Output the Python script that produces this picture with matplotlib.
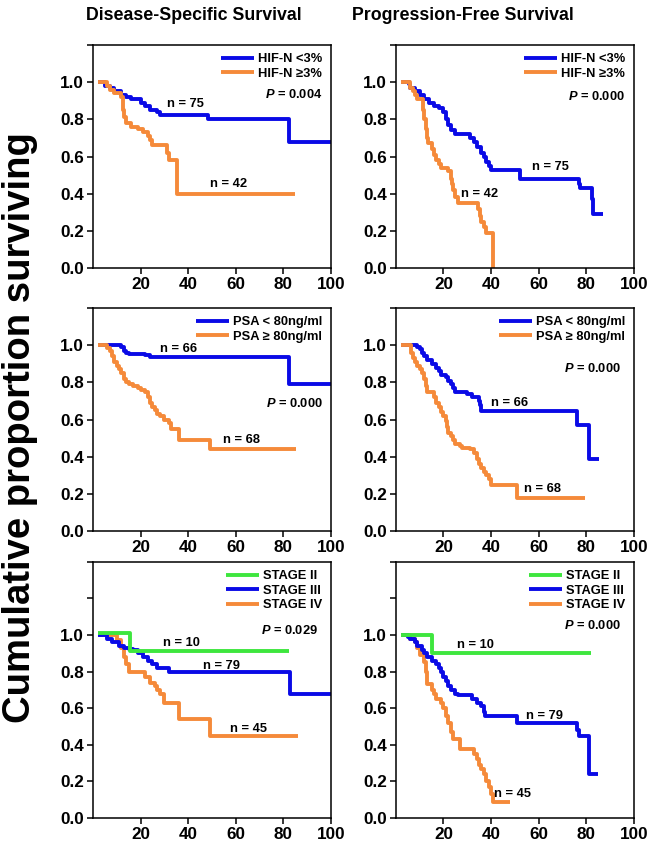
import matplotlib
matplotlib.use("Agg")
import matplotlib.pyplot as plt

plt.rcParams['font.family'] = ['Liberation Sans', 'DejaVu Sans']
plt.rcParams['font.weight'] = 'bold'
plt.rcParams['mathtext.fontset'] = 'custom'
plt.rcParams['mathtext.it'] = 'Liberation Sans:italic:bold'
plt.rcParams['mathtext.rm'] = 'Liberation Sans:bold'

BLUE = '#0a0ae6'
ORANGE = '#f58a3a'
GREEN = '#3ee63e'

# --- data (months, survival) ---
dss_hif_lo_t = [2, 5, 7, 9, 12, 14, 16, 20, 22, 24, 27, 28, 48.5, 82.5, 100]
dss_hif_lo_s = [1.0, 0.98, 0.97, 0.95, 0.93, 0.92, 0.91, 0.89, 0.87, 0.85, 0.84, 0.825, 0.80, 0.68, 0.68]
dss_hif_hi_t = [2, 6, 7, 9, 12, 12.5, 13, 14, 16, 19, 21, 23, 24, 25, 31, 32, 35.5, 85]
dss_hif_hi_s = [1.0, 0.98, 0.96, 0.94, 0.92, 0.85, 0.81, 0.78, 0.76, 0.75, 0.73, 0.71, 0.69, 0.66, 0.62, 0.58, 0.40, 0.40]

pfs_hif_lo_t = [2, 5.5, 6, 8, 10, 12, 14, 16, 18, 20, 21, 22, 23, 25, 31, 33, 34, 36, 37, 38, 39, 40, 52, 77, 77.5, 82.5, 83, 87]
pfs_hif_lo_s = [1.0, 0.99, 0.97, 0.95, 0.93, 0.91, 0.89, 0.87, 0.86, 0.84, 0.80, 0.77, 0.74, 0.72, 0.70, 0.68, 0.65, 0.62, 0.60, 0.57, 0.55, 0.53, 0.48, 0.45, 0.43, 0.37, 0.29, 0.29]
pfs_hif_hi_t = [2, 6, 7, 8, 9, 11.5, 12, 12.5, 13, 13.5, 15, 16, 17, 18, 19, 22, 23, 23.5, 24, 25, 26, 34.5, 35.5, 36, 37, 38, 41]
pfs_hif_hi_s = [1.0, 0.97, 0.95, 0.93, 0.91, 0.85, 0.80, 0.75, 0.70, 0.67, 0.64, 0.61, 0.58, 0.56, 0.54, 0.52, 0.48, 0.45, 0.42, 0.38, 0.35, 0.32, 0.28, 0.25, 0.22, 0.19, 0.0]

dss_psa_lo_t = [2, 12, 13, 14, 15, 22, 24, 82.5, 100]
dss_psa_lo_s = [1.0, 0.99, 0.97, 0.96, 0.955, 0.945, 0.935, 0.79, 0.79]
dss_psa_hi_t = [2, 6, 7, 8, 9, 10, 11, 12, 13, 14, 15, 17, 19, 20, 22, 23, 24, 25, 26, 27, 28, 30, 32, 33, 36, 49, 85.5]
dss_psa_hi_s = [1.0, 0.985, 0.97, 0.94, 0.91, 0.89, 0.87, 0.85, 0.82, 0.80, 0.79, 0.78, 0.77, 0.76, 0.75, 0.72, 0.69, 0.67, 0.65, 0.63, 0.62, 0.60, 0.58, 0.55, 0.49, 0.44, 0.44]

pfs_psa_lo_t = [2, 9, 10, 11, 12, 13, 15, 17, 18, 19, 21, 22, 23, 24, 25, 30, 32, 35, 35.5, 36, 76, 81, 85.5]
pfs_psa_lo_s = [1.0, 0.99, 0.98, 0.96, 0.94, 0.92, 0.90, 0.88, 0.86, 0.84, 0.83, 0.81, 0.79, 0.77, 0.75, 0.74, 0.72, 0.70, 0.68, 0.645, 0.57, 0.39, 0.39]
pfs_psa_hi_t = [2, 6.5, 7, 8, 9, 10, 11, 12, 12.5, 13, 16, 17, 18, 19, 20, 21, 21.5, 22, 23, 24, 25, 27, 28, 31, 33, 34, 35, 36, 37, 38, 39, 40, 51, 79.5]
pfs_psa_hi_s = [1.0, 0.96, 0.93, 0.91, 0.89, 0.87, 0.85, 0.82, 0.78, 0.75, 0.72, 0.69, 0.67, 0.64, 0.62, 0.59, 0.56, 0.53, 0.51, 0.49, 0.47, 0.46, 0.45, 0.44, 0.42, 0.39, 0.36, 0.34, 0.32, 0.30, 0.28, 0.25, 0.18, 0.18]

dss_st2_t = [2, 15.5, 82.5]
dss_st2_s = [1.01, 0.915, 0.915]
dss_st3_t = [2, 6, 8, 11, 13, 15, 17, 19, 21, 23, 25, 27, 32, 83, 100]
dss_st3_s = [1.0, 0.98, 0.96, 0.94, 0.93, 0.925, 0.92, 0.90, 0.88, 0.86, 0.84, 0.82, 0.80, 0.68, 0.68]
dss_st4_t = [2, 10, 12, 13, 14, 15, 22, 24, 26, 27, 28, 30, 36, 49, 86]
dss_st4_s = [1.0, 0.97, 0.93, 0.88, 0.84, 0.80, 0.77, 0.74, 0.72, 0.70, 0.68, 0.63, 0.54, 0.45, 0.45]

pfs_st2_t = [2, 15, 82]
pfs_st2_s = [1.0, 0.90, 0.90]
pfs_st3_t = [2, 5, 6, 8, 9, 11, 12, 13, 15, 17, 18, 19, 20, 21, 22, 23, 25, 26, 32, 34, 36, 37, 37.5, 51, 76, 77, 81, 85]
pfs_st3_s = [1.0, 0.99, 0.98, 0.96, 0.94, 0.92, 0.90, 0.88, 0.86, 0.84, 0.82, 0.80, 0.77, 0.75, 0.72, 0.70, 0.68, 0.67, 0.65, 0.63, 0.61, 0.58, 0.555, 0.52, 0.48, 0.45, 0.24, 0.24]
pfs_st4_t = [2, 6, 8, 9, 10, 12, 12.5, 13, 15, 16, 17, 19, 20, 21, 22, 23, 24, 27, 33, 34, 35, 36, 37, 38, 39, 40, 41, 48]
pfs_st4_s = [1.0, 0.98, 0.96, 0.93, 0.89, 0.85, 0.80, 0.73, 0.70, 0.68, 0.65, 0.63, 0.60, 0.56, 0.52, 0.47, 0.43, 0.38, 0.35, 0.32, 0.29, 0.27, 0.24, 0.20, 0.17, 0.13, 0.09, 0.09]

hif_labels = ['HIF-N <3%', 'HIF-N \u22653%']
psa_labels = ['PSA < 80ng/ml', 'PSA \u2265 80ng/ml']
stage_labels = ['STAGE II', 'STAGE III', 'STAGE IV']
col_titles = ['Disease-Specific Survival', 'Progression-Free Survival']

fig = plt.figure(figsize=(6.5, 8.46), dpi=100)

lefts = [0.143, 0.609]
w = 0.366
rows = [(0.683, 0.264, 1.2), (0.372, 0.264, 1.2), (0.033, 0.303, 1.38)]

LEG_PROP = {'weight': 'bold', 'size': 9.3}


def make_ax(col, row):
    b, h, ytop = rows[row]
    ax = fig.add_axes([lefts[col], b, w, h])
    ax.set_xlim(0, 100)
    ax.set_ylim(0, ytop)
    ax.set_xticks([20, 40, 60, 80, 100])
    yt = [0, 0.2, 0.4, 0.6, 0.8, 1.0, 1.2] + ([1.4] if ytop > 1.3 else [])
    ax.set_yticks(yt)
    ax.set_yticklabels(['%.1f' % v if v <= 1.0 else '' for v in yt])
    ax.tick_params(labelsize=12.3, width=1.1, length=4, direction='out', pad=2.5)
    for sp in ax.spines.values():
        sp.set_linewidth(1.1)
    return ax


def curve(ax, t, s, c, label):
    ax.step(t, s, where='post', color=c, lw=2.8, label=label, solid_capstyle='butt')


def legend(ax, reverse=False):
    h, l = ax.get_legend_handles_labels()
    if reverse:
        h, l = h[::-1], l[::-1]
    ax.legend(h, l, loc='upper right', frameon=False, handlelength=2.6,
              handletextpad=0.3, labelspacing=0.2, borderaxespad=0.25, prop=LEG_PROP)


def txt(ax, x, y, s, ha='center'):
    ax.text(x, y, s, ha=ha, va='center', fontsize=9.3, fontweight='bold')


# row 1
ax = make_ax(0, 0)
curve(ax, dss_hif_lo_t, dss_hif_lo_s, BLUE, hif_labels[0])
curve(ax, dss_hif_hi_t, dss_hif_hi_s, ORANGE, hif_labels[1])
legend(ax)
txt(ax, 39, 0.88, 'n = 75')
txt(ax, 57, 0.45, 'n = 42')
txt(ax, 96.5, 0.932, '$P$ = 0.004', ha='right')

ax = make_ax(1, 0)
curve(ax, pfs_hif_lo_t, pfs_hif_lo_s, BLUE, hif_labels[0])
curve(ax, pfs_hif_hi_t, pfs_hif_hi_s, ORANGE, hif_labels[1])
legend(ax)
txt(ax, 65, 0.546, 'n = 75')
txt(ax, 35, 0.40, 'n = 42')
txt(ax, 96.5, 0.924, '$P$ = 0.000', ha='right')

# row 2
ax = make_ax(0, 1)
curve(ax, dss_psa_lo_t, dss_psa_lo_s, BLUE, psa_labels[0])
curve(ax, dss_psa_hi_t, dss_psa_hi_s, ORANGE, psa_labels[1])
legend(ax)
txt(ax, 36, 0.982, 'n = 66')
txt(ax, 62.5, 0.49, 'n = 68')
txt(ax, 96.5, 0.684, '$P$ = 0.000', ha='right')

ax = make_ax(1, 1)
curve(ax, pfs_psa_lo_t, pfs_psa_lo_s, BLUE, psa_labels[0])
curve(ax, pfs_psa_hi_t, pfs_psa_hi_s, ORANGE, psa_labels[1])
legend(ax)
txt(ax, 48, 0.689, 'n = 66')
txt(ax, 61.5, 0.229, 'n = 68')
txt(ax, 94.5, 0.875, '$P$ = 0.000', ha='right')

# row 3
ax = make_ax(0, 2)
curve(ax, dss_st4_t, dss_st4_s, ORANGE, stage_labels[2])
curve(ax, dss_st3_t, dss_st3_s, BLUE, stage_labels[1])
curve(ax, dss_st2_t, dss_st2_s, GREEN, stage_labels[0])
legend(ax, reverse=True)
txt(ax, 37, 0.955, 'n = 10')
txt(ax, 54, 0.832, 'n = 79')
txt(ax, 65.5, 0.486, 'n = 45')
txt(ax, 94.5, 1.027, '$P$ = 0.029', ha='right')

ax = make_ax(1, 2)
curve(ax, pfs_st4_t, pfs_st4_s, ORANGE, stage_labels[2])
curve(ax, pfs_st3_t, pfs_st3_s, BLUE, stage_labels[1])
curve(ax, pfs_st2_t, pfs_st2_s, GREEN, stage_labels[0])
legend(ax, reverse=True)
txt(ax, 33.5, 0.946, 'n = 10')
txt(ax, 62.3, 0.556, 'n = 79')
txt(ax, 49, 0.131, 'n = 45')
txt(ax, 94.5, 1.054, '$P$ = 0.000', ha='right')

fig.text(194 / 650, 0.982, col_titles[0], ha='center', va='center', fontsize=12.8, fontweight='bold')
fig.text(463 / 650, 0.982, col_titles[1], ha='center', va='center', fontsize=12.8, fontweight='bold')
fig.text(0.031, 0.495, 'Cumulative proportion surviving', rotation=90, ha='center', va='center',
         fontsize=27.5, fontweight='bold')

fig.savefig('out.png', dpi=100)
